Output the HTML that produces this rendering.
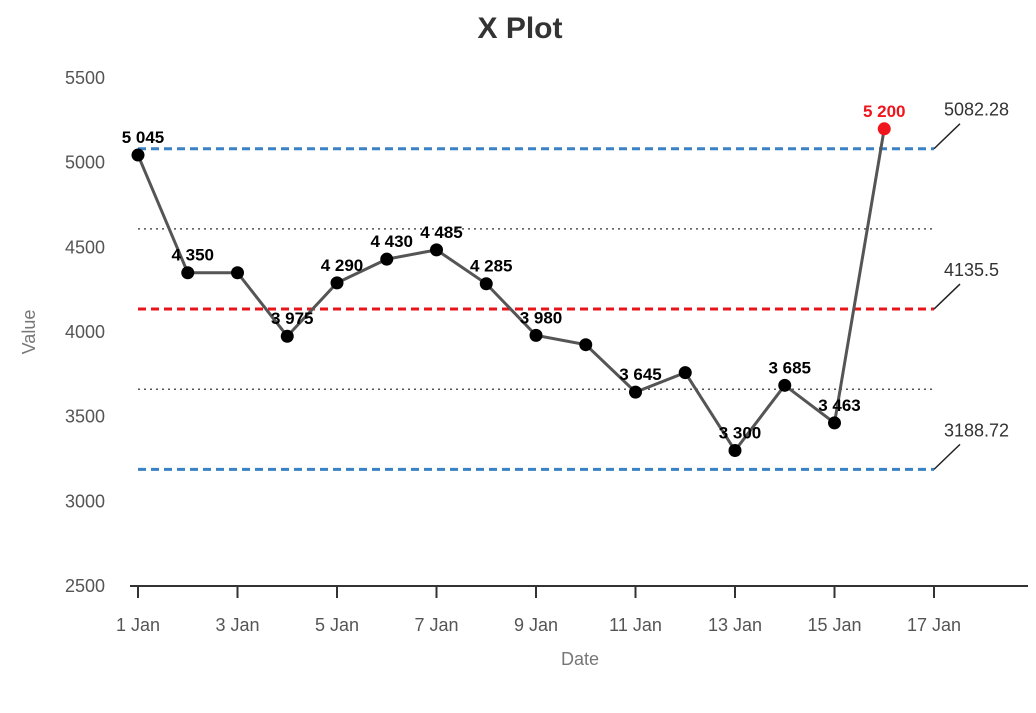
<!DOCTYPE html>
<html><head><meta charset="utf-8"><style>
body{margin:0;background:#fff;font-family:"Liberation Sans",sans-serif}
</style></head><body>
<svg id="chart" width="1036" height="708" xmlns="http://www.w3.org/2000/svg" font-family="Liberation Sans, sans-serif">
<text x="520" y="38" text-anchor="middle" font-size="30" font-weight="bold" fill="#333">X Plot</text>
<text x="35" y="332" text-anchor="middle" font-size="18" fill="#777" transform="rotate(-90 35 332)">Value</text>
<text x="580" y="665" text-anchor="middle" font-size="18" fill="#777">Date</text>
<g id="axes"></g><g id="lines"></g><g id="series"></g>
</svg>
<script>
const days=[1,2,3,4,5,6,7,8,9,10,11,12,13,14,15,16];
const values=[5045,4350,4350,3975,4290,4430,4485,4285,3980,3925,3645,3760,3300,3685,3463,5200];
const showLabel=[1,1,0,1,1,1,1,1,1,0,1,0,1,1,1,1];
const yTicks=[2500,3000,3500,4000,4500,5000,5500];
const xTicks=[1,3,5,7,9,11,13,15,17];
const ucl=5082.28, mean=4135.5, lcl=3188.72;
const sigma=(ucl-mean)/3;
const ns="http://www.w3.org/2000/svg";
const X=d=>138+(d-1)*(934-138)/16;
const Y=v=>586-(v-2500)*(586-78)/3000;
function mk(t,a,p){const e=document.createElementNS(ns,t);for(const k in a)e.setAttribute(k,a[k]);p.appendChild(e);return e;}
const ax=document.getElementById('axes'),ln=document.getElementById('lines'),sr=document.getElementById('series');
const base=mk('line',{x1:130,x2:1028,y1:586,y2:586,stroke:'#333','stroke-width':2},ax);


yTicks.forEach(v=>{const t=mk('text',{x:105,y:Y(v)+6,'text-anchor':'end','font-size':18,fill:'#555'},ax);t.textContent=v;

});
xTicks.forEach(d=>{mk('line',{x1:X(d),x2:X(d),y1:586,y2:598,stroke:'#333','stroke-width':2},ax);
const t=mk('text',{x:X(d),y:631,'text-anchor':'middle','font-size':18,fill:'#555'},ax);t.textContent=d+' Jan';

});
function hline(v,color,dash,w,name,label){const l=mk('line',{x1:X(1),x2:X(17),y1:Y(v),y2:Y(v),stroke:color,'stroke-width':w,'stroke-dasharray':dash},ln);


if(label){mk('line',{x1:X(17),y1:Y(v),x2:X(17)+26,y2:Y(v)-25,stroke:'#222','stroke-width':1.5},ln);
const t=mk('text',{x:944,y:Y(v)-33,'font-size':18,fill:'#333'},ln);t.textContent=label;

}}
hline(mean+1.5*sigma,'#555','2,4',1.5,'upper-warning-line');
hline(mean-1.5*sigma,'#555','2,4',1.5,'lower-warning-line');
hline(ucl,'#3a82c4','8,5',3,'ucl-line',String(ucl));
hline(mean,'#e8141c','8,5',3,'mean-line',String(mean));
hline(lcl,'#3a82c4','8,5',3,'lcl-line',String(lcl));
const p=mk('polyline',{points:days.map((d,i)=>X(d)+','+Y(values[i])).join(' '),fill:'none',stroke:'#555','stroke-width':3},sr);


days.forEach((d,i)=>{const out=values[i]>ucl||values[i]<lcl;const c=out?'#f0141c':'#000';
const pt=mk('circle',{cx:X(d),cy:Y(values[i]),r:6.5,fill:c},sr);


if(showLabel[i]){const t=mk('text',{x:X(d)+(out?0:5),y:Y(values[i])-12,'text-anchor':'middle','font-size':17,'font-weight':'bold',fill:out?'#f0141c':'#000'},sr);
t.textContent=values[i].toString().replace(/\B(?=(\d{3})+(?!\d))/g,' ');

}});
</script>
</body></html>
